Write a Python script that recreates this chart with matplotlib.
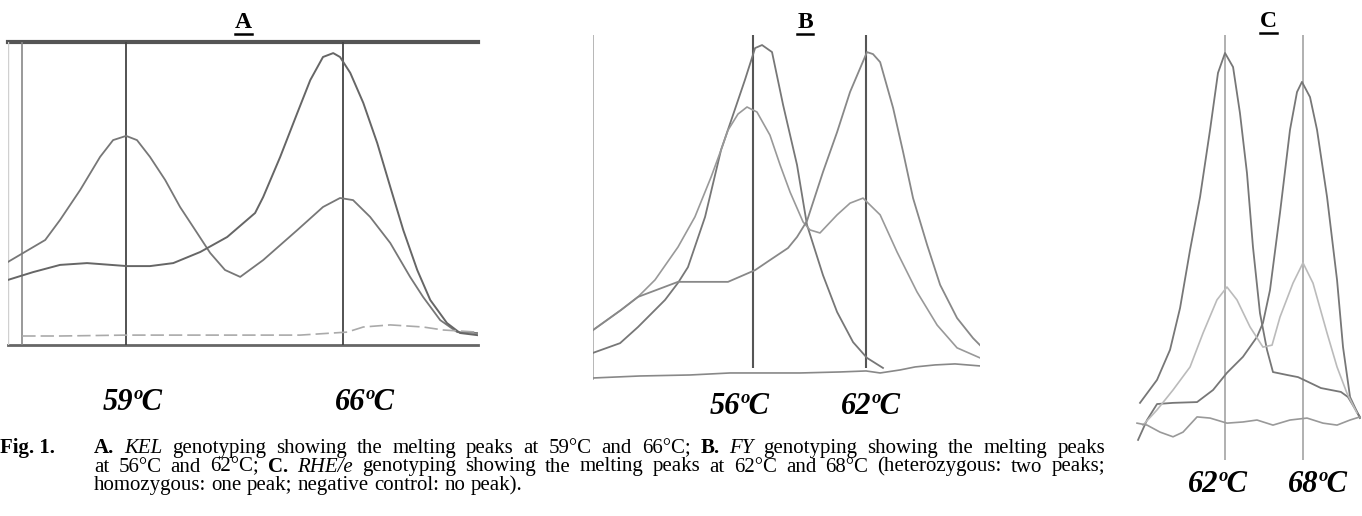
import matplotlib
matplotlib.use("Agg")
import matplotlib.pyplot as plt
from matplotlib.lines import Line2D

W, H = 1362, 516
SERIF = "Liberation Serif"

# ---- panel A: KEL melting curves (temperature degC, -dF/dT arbitrary units)
kel_het_t = [55.19, 56.39, 56.87, 57.52, 58.16, 58.58, 59.0, 59.35, 59.77, 60.26, 60.74,
             61.23, 61.71, 62.19, 62.68, 63.42, 64.52, 65.35, 65.9, 66.32, 66.87, 67.52,
             68.16, 68.58, 69.13, 69.68, 70.32]
kel_het_v = [27.7, 35.0, 41.7, 51.7, 62.7, 68.3, 69.7, 68.3, 62.7, 55.0, 46.0,
             38.3, 30.7, 25.0, 22.7, 28.3, 38.3, 46.0, 49.0, 48.3, 42.7, 34.0,
             22.7, 16.0, 8.3, 4.3, 4.0]
kel_hom_t = [55.19, 56.0, 56.87, 57.74, 59.03, 59.77, 60.52, 61.39, 62.26, 63.16, 63.42,
             63.97, 64.52, 64.94, 65.35, 65.68, 65.9, 66.23, 66.65, 67.1, 67.52, 67.94,
             68.39, 68.81, 69.35, 69.77, 70.32]
kel_hom_v = [21.7, 24.3, 26.7, 27.3, 26.3, 26.3, 27.3, 31.0, 36.0, 44.0, 49.3,
             62.7, 77.3, 88.3, 96.0, 97.3, 96.0, 90.7, 80.7, 67.3, 52.7, 38.3,
             25.0, 15.0, 7.3, 4.0, 3.3]
kel_neg_t = [55.65, 56.87, 59.0, 61.39, 64.61, 66.13, 66.65, 67.52, 68.58, 69.23, 70.32]
kel_neg_v = [3.0, 3.0, 3.3, 3.3, 3.3, 4.3, 6.0, 6.7, 6.0, 5.0, 4.3]
kel_peaks = [59, 66]

# ---- panel B: FY
fy_hom56_t = [47.49, 48.93, 49.88, 51.32, 52.01, 52.54, 53.45, 54.30, 54.88, 55.57, 56.11,
              56.48, 57.01, 57.60, 58.34, 58.87, 59.72, 60.47, 61.32, 62.06, 62.91]
fy_hom56_v = [8.1, 11.0, 15.8, 23.9, 29.0, 33.7, 48.7, 68.7, 78.2, 89.6, 99.1,
              100.0, 97.9, 82.1, 64.2, 46.3, 31.3, 20.3, 11.3, 6.6, 3.6]
fy_het_t = [47.49, 48.98, 49.88, 50.79, 52.01, 52.91, 53.77, 54.30, 54.67, 55.20, 55.68,
            56.21, 56.90, 57.44, 57.97, 58.66, 59.03, 59.56, 60.47, 61.16, 61.85, 62.76,
            63.66, 64.72, 65.79, 66.85, 68.07]
fy_het_v = [14.9, 20.9, 24.8, 29.9, 39.7, 48.7, 60.6, 68.7, 74.6, 79.4, 81.5,
            80.0, 73.1, 64.2, 56.1, 47.2, 44.8, 43.9, 49.3, 52.8, 54.3, 49.3,
            38.2, 26.3, 16.4, 9.6, 6.6]
fy_hom62_t = [47.49, 48.98, 49.88, 52.01, 54.67, 56.11, 56.90, 57.86, 58.34, 58.87, 59.72,
              60.47, 61.16, 62.06, 62.38, 62.76, 63.45, 63.98, 64.51, 65.26, 65.95, 66.85,
              67.70, 68.07]
fy_hom62_v = [14.9, 20.9, 24.8, 29.3, 29.3, 32.8, 35.8, 39.4, 42.7, 47.5, 62.1,
              74.0, 86.0, 97.9, 97.3, 94.9, 81.2, 68.1, 54.3, 40.3, 28.4, 18.5,
              12.5, 10.4]
fy_neg_t = [47.49, 49.99, 52.65, 54.78, 56.37, 58.50, 60.63, 62.01, 62.76, 63.82, 64.62,
            65.68, 66.74, 68.07]
fy_neg_v = [0.6, 1.2, 1.5, 2.1, 2.1, 2.1, 2.4, 2.7, 2.1, 3.0, 3.9, 4.5, 4.8, 4.2]
fy_peaks = [56, 62]

# ---- panel C: RHE/e
rhe_hom62_t = [55.46, 56.77, 57.77, 58.54, 59.31, 60.08, 60.85, 61.46, 62.0, 62.62, 63.15,
               63.69, 64.15, 64.69, 65.23, 65.69, 66.85, 67.62, 68.38, 69.38, 70.92, 71.46,
               72.38]
rhe_hom62_v = [10.8, 16.7, 24.4, 35.1, 50.0, 63.6, 80.8, 95.4, 100.5, 96.9, 85.1,
               69.7, 50.8, 33.8, 24.4, 18.7, 17.9, 17.4, 16.2, 14.6, 13.6, 12.3,
               7.2]
rhe_hom68_t = [55.31, 56.0, 56.77, 58.0, 59.85, 61.08, 62.15, 63.38, 64.46, 64.92, 65.46,
               66.23, 67.0, 67.54, 67.92, 68.54, 69.08, 69.85, 70.62, 71.08, 71.62, 72.38]
rhe_hom68_v = [1.3, 6.4, 10.5, 10.8, 11.0, 14.1, 18.5, 22.6, 27.7, 31.3, 39.7,
               59.5, 80.8, 90.5, 93.1, 89.2, 80.8, 63.6, 42.3, 25.1, 12.3, 6.9]
rhe_het_t = [55.69, 56.77, 58.0, 59.31, 60.31, 61.38, 62.15, 62.92, 63.92, 64.92, 65.62,
             66.23, 67.23, 68.0, 68.77, 69.85, 70.62, 71.38, 72.15]
rhe_het_v = [5.1, 9.0, 14.1, 20.0, 28.7, 37.2, 40.5, 37.2, 30.3, 25.1, 25.6,
             32.8, 41.5, 46.7, 41.5, 28.7, 20.0, 13.3, 8.2]
rhe_neg_t = [55.23, 56.0, 57.0, 58.0, 58.77, 59.85, 60.85, 62.15, 63.38, 64.46, 65.69,
             67.0, 68.31, 69.54, 70.62, 71.62, 72.38]
rhe_neg_v = [5.6, 5.1, 3.3, 2.1, 3.3, 7.2, 6.9, 5.6, 5.9, 6.4, 5.1,
             6.4, 6.9, 5.6, 5.1, 6.4, 7.2]
rhe_peaks = [62, 68]

panel_letters = ["A", "B", "C"]
peak_labels = [["59ºC", "66ºC"], ["56ºC", "62ºC"], ["62ºC", "68ºC"]]

caption_lines = [
    [("A.", "bold", "normal"), ("KEL", "normal", "italic"),
     ("genotyping showing the melting peaks at 59°C and 66°C;", "normal", "normal"),
     ("B.", "bold", "normal"), ("FY", "normal", "italic"),
     ("genotyping showing the melting peaks", "normal", "normal")],
    [("at 56°C and 62°C;", "normal", "normal"), ("C.", "bold", "normal"),
     ("RHE/e", "normal", "italic"),
     ("genotyping showing the melting peaks at 62°C and 68°C (heterozygous: two peaks;",
      "normal", "normal")],
    [("homozygous: one peak; negative control: no peak).", "normal", "normal")],
]
justified = [True, True, False]


def box(x0, y0, x1, y1):
    return [x0 / W, 1 - y1 / H, (x1 - x0) / W, (y1 - y0) / H]


def bare(ax):
    for s in ax.spines.values():
        s.set_visible(False)
    ax.set_xticks([])
    ax.set_yticks([])
    ax.patch.set_alpha(0)


fig = plt.figure(figsize=(W / 100, H / 100), dpi=100)

# panel A
axA = fig.add_axes(box(8, 42, 478, 345))
bare(axA)
axA.set_xlim(55.19, 70.35)
axA.set_ylim(0, 101)
axA.axhline(101, color="#555555", lw=3, clip_on=False)
axA.axhline(0, color="#666666", lw=2, clip_on=False)
axA.axvline(55.19, color="#d0d0d0", lw=1)
axA.axvline(55.65, color="#888888", lw=1.2)
axA.vlines(kel_peaks, 0, 101, color="#444444", lw=1.3)
axA.plot(kel_het_t, kel_het_v, color="#777777", lw=1.3)
axA.plot(kel_hom_t, kel_hom_v, color="#666666", lw=1.4)
axA.plot(kel_neg_t, kel_neg_v, color="#aaaaaa", lw=1.2, ls=(0, (8, 3)))

# panel B
axB = fig.add_axes(box(593, 35, 980, 380))
bare(axB)
axB.set_xlim(47.49, 68.07)
axB.set_ylim(0, 103)
axB.axvline(47.49, color="#aaaaaa", lw=1.2)
axB.vlines(fy_peaks, 3.6, 103, color="#555555", lw=1.5)
axB.plot(fy_hom56_t, fy_hom56_v, color="#777777", lw=1.3)
axB.plot(fy_het_t, fy_het_v, color="#999999", lw=1.2)
axB.plot(fy_hom62_t, fy_hom62_v, color="#888888", lw=1.3)
axB.plot(fy_neg_t, fy_neg_v, color="#888888", lw=1.2)

# panel C
axC = fig.add_axes(box(1130, 30, 1362, 460))
bare(axC)
axC.set_xlim(54.69, 72.54)
axC.set_ylim(-3.85, 106.4)
axC.vlines(rhe_peaks, -3.85, 105.1, color="#aaaaaa", lw=1.3)
axC.plot(rhe_hom62_t, rhe_hom62_v, color="#777777", lw=1.3)
axC.plot(rhe_hom68_t, rhe_hom68_v, color="#777777", lw=1.3)
axC.plot(rhe_het_t, rhe_het_v, color="#bbbbbb", lw=1.2)
axC.plot(rhe_neg_t, rhe_neg_v, color="#999999", lw=1.2)

# panel letters, underlined
letter_pos = [(243, 28), (805, 28), (1268, 27)]
letters = []
for (x, y), s in zip(letter_pos, panel_letters):
    letters.append(fig.text(x / W, 1 - y / H, s, family=SERIF, fontweight="bold",
                            fontsize=17, ha="center", va="baseline"))

# peak temperature labels
label_pos = [[(133, 410), (365, 410)], [(740, 414), (871, 414)], [(1218, 492), (1318, 492)]]
for pos, labs in zip(label_pos, peak_labels):
    for (x, y), s in zip(pos, labs):
        fig.text(x / W, 1 - y / H, s, family=SERIF, fontweight="bold", fontstyle="italic",
                 fontsize=22, ha="center", va="baseline")

# caption, first two lines justified
CAP = 15
fig.text(0, 1 - 453 / H, "Fig. 1.", family=SERIF, fontweight="bold", fontsize=CAP,
         va="baseline")
cap_words = []
for i, segs in enumerate(caption_lines):
    words = []
    for txt, wt, st in segs:
        for w in txt.split(" "):
            words.append(fig.text(0, 1 - (453 + 18.5 * i) / H, w, family=SERIF,
                                  fontweight=wt, fontstyle=st, fontsize=CAP, va="baseline"))
    cap_words.append(words)

fig.canvas.draw()
r = fig.canvas.get_renderer()
t1 = fig.text(0, 0, "a a", family=SERIF, fontsize=CAP)
t2 = fig.text(0, 0, "aa", family=SERIF, fontsize=CAP)
space = t1.get_window_extent(r).width - t2.get_window_extent(r).width
t1.remove()
t2.remove()

x0, x1 = 94, 1105
for words, just in zip(cap_words, justified):
    widths = [w.get_window_extent(r).width for w in words]
    gap = (x1 - x0 - sum(widths)) / (len(words) - 1) if just else space
    x = x0
    for w, wd in zip(words, widths):
        w.set_x(x / W)
        x += wd + gap

for t in letters:
    bb = t.get_window_extent(r)
    y0 = bb.y0 - 1
    fig.add_artist(Line2D([bb.x0 / W, bb.x1 / W], [y0 / H, y0 / H], color="black", lw=1.8))

fig.savefig("out.png", dpi=100)
